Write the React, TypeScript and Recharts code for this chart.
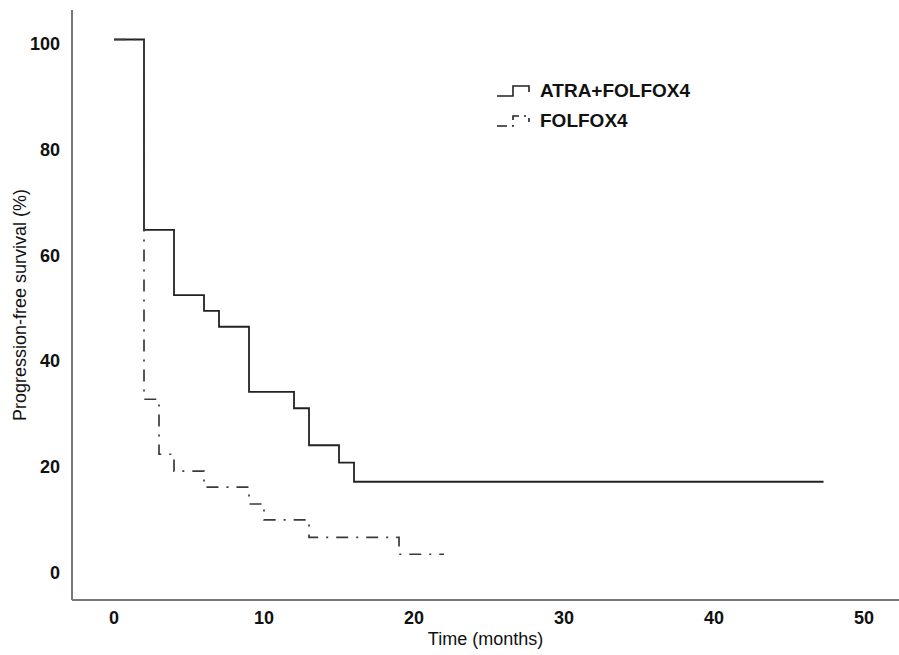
import React from "react";
import { LineChart, Line, XAxis, YAxis } from "recharts";

// Kaplan-Meier step points
const atraMonths = [0, 2, 4, 6, 7, 9, 12, 13, 15, 16, 47.3];
const atraPfs = [100, 64, 51.7, 48.7, 45.7, 33.4, 30.3, 23.3, 20, 16.4, 16.4];

const folfoxMonths = [0, 2, 3, 4, 6, 9, 10, 13, 19, 22];
const folfoxPfs = [100, 32, 21.6, 18.4, 15.4, 12.2, 9.2, 5.9, 2.7, 2.7];

const xTicks = [0, 10, 20, 30, 40, 50];
const yTicks = [0, 20, 40, 60, 80, 100];

const atraData = atraMonths.map((t, i) => ({ t, pfs: atraPfs[i] }));
const folfoxData = folfoxMonths.map((t, i) => ({ t, pfs: folfoxPfs[i] }));

const FONT = "'Liberation Sans', Arial, sans-serif";
const tickStyle = { fontFamily: FONT, fontSize: 18, fontWeight: 700, fill: "#111" };

function KmLegend() {
  const row = (label: string, dash: string | undefined, top: number) => (
    <div style={{ position: "absolute", left: 0, top, display: "flex", alignItems: "center" }}>
      <svg width={40} height={20}>
        <path
          d="M1 15 H17 V5 H33 V11"
          fill="none"
          stroke="#222"
          strokeWidth={1.6}
          strokeDasharray={dash}
        />
      </svg>
      <span style={{ fontFamily: FONT, fontSize: 19, fontWeight: 700, color: "#111", marginLeft: 4 }}>
        {label}
      </span>
    </div>
  );
  return (
    <div style={{ position: "absolute", left: 496, top: 80, width: 260, height: 60 }}>
      {row("ATRA+FOLFOX4", undefined, 0)}
      {row("FOLFOX4", "10 5 2 5", 30)}
    </div>
  );
}

export default function App() {
  return (
    <div style={{ position: "absolute", left: 0, top: 0, width: 899, height: 655, background: "#fff" }}>
      <LineChart width={899} height={655} margin={{ top: 10, right: 0, left: 0, bottom: 0 }}>
        <XAxis
          dataKey="t"
          type="number"
          domain={[-2.8, 52.33]}
          ticks={xTicks}
          allowDataOverflow
          tickLine={false}
          tickMargin={5}
          height={55}
          axisLine={{ stroke: "#777", strokeWidth: 2 }}
          tick={tickStyle}
          label={{
            value: "Time (months)",
            position: "insideBottom",
            offset: 10,
            style: { fontFamily: FONT, fontSize: 18, fill: "#111" },
          }}
        />
        <YAxis
          type="number"
          domain={[-5.95, 105.58]}
          ticks={yTicks}
          allowDataOverflow
          tickLine={false}
          tickMargin={6}
          width={72}
          axisLine={{ stroke: "#777", strokeWidth: 2 }}
          tick={{ ...tickStyle, dy: 4 }}
          label={{
            value: "Progression-free survival (%)",
            angle: -90,
            position: "insideLeft",
            offset: 20,
            style: { fontFamily: FONT, fontSize: 18, fill: "#111", textAnchor: "middle" },
          }}
        />
        <Line
          data={atraData}
          dataKey="pfs"
          type="stepAfter"
          stroke="#222"
          strokeWidth={1.8}
          dot={false}
          isAnimationActive={false}
        />
        <Line
          data={folfoxData}
          dataKey="pfs"
          type="stepAfter"
          stroke="#3a3a3a"
          strokeWidth={1.7}
          strokeDasharray="12 8 2 8"
          dot={false}
          isAnimationActive={false}
        />
      </LineChart>
      <KmLegend />
    </div>
  );
}
